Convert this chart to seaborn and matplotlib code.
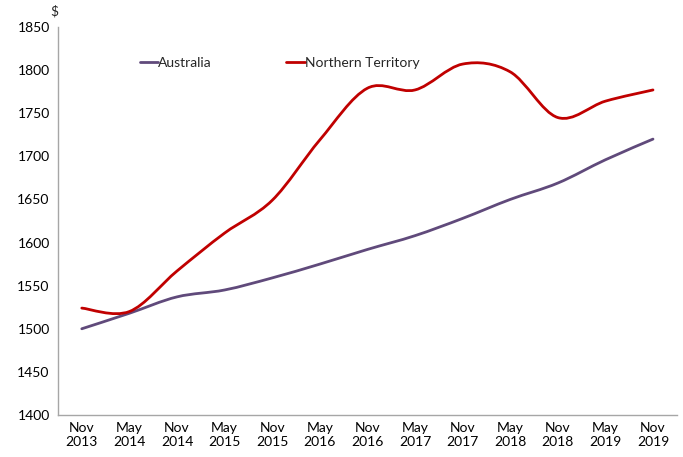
import matplotlib
matplotlib.use("Agg")
import matplotlib.pyplot as plt
from matplotlib.path import Path
from matplotlib.patches import PathPatch
import seaborn as sns
import pandas as pd
import numpy as np

periods = ["Nov\n2013", "May\n2014", "Nov\n2014", "May\n2015", "Nov\n2015", "May\n2016",
           "Nov\n2016", "May\n2017", "Nov\n2017", "May\n2018", "Nov\n2018", "May\n2019", "Nov\n2019"]
australia = [1500, 1518, 1537, 1545, 1559, 1575, 1592, 1608, 1628, 1650, 1669, 1696, 1720]
northern_territory = [1524, 1520, 1567, 1611, 1649, 1719, 1779, 1777, 1807, 1798, 1745, 1764, 1777]

sns.set_theme(style="white")
plt.rcParams['font.family'] = ['Lato', 'DejaVu Sans']

df = pd.DataFrame({
    "x": list(range(len(periods))) * 2,
    "value": australia + northern_territory,
    "series": ["Australia"] * len(periods) + ["Northern Territory"] * len(periods),
})

fig = plt.figure(figsize=(6.83, 4.57), dpi=100)
ax = fig.add_axes([0.0849, 0.0919, 0.906, 0.849])
sns.lineplot(data=df, x="x", y="value", hue="series",
             palette={"Australia": "#604A7B", "Northern Territory": "#C00000"},
             linewidth=2, ax=ax)


def smooth_path(x, y, t=1.0 / 6.0):
    # Excel-style smoothed line: cubic Bezier segments through the data points
    x = np.asarray(x, float)
    y = np.asarray(y, float)
    n = len(x)
    verts = [(x[0], y[0])]
    codes = [Path.MOVETO]
    for i in range(n - 1):
        p0 = (x[max(i - 1, 0)], y[max(i - 1, 0)])
        p1 = (x[i], y[i])
        p2 = (x[i + 1], y[i + 1])
        p3 = (x[min(i + 2, n - 1)], y[min(i + 2, n - 1)])
        c1 = (p1[0] + (p2[0] - p0[0]) * t, p1[1] + (p2[1] - p0[1]) * t)
        c2 = (p2[0] - (p3[0] - p1[0]) * t, p2[1] - (p3[1] - p1[1]) * t)
        verts += [c1, c2, p2]
        codes += [Path.CURVE4] * 3
    return Path(verts, codes)


for line in list(ax.lines):
    xd, yd = line.get_xdata(), line.get_ydata()
    if len(xd) < 2:
        continue
    patch = PathPatch(smooth_path(xd, yd), facecolor="none", edgecolor=line.get_color(),
                      linewidth=2, capstyle="round", joinstyle="round")
    ax.add_patch(patch)
    line.set_visible(False)

ax.set_xlim(-0.5, len(periods) - 0.5)
ax.set_ylim(1400, 1850)
ax.set_yticks(range(1400, 1851, 50))
ax.set_xticks(range(len(periods)))
ax.set_xticklabels(periods, fontsize=10, color="#000000", linespacing=1.2)
ax.tick_params(axis="y", labelsize=10, colors="#000000", length=0, pad=6)
ax.tick_params(axis="x", length=0, pad=5)
ax.set_xlabel("")
ax.set_ylabel("")
for s in ["top", "right"]:
    ax.spines[s].set_visible(False)
for s in ["left", "bottom"]:
    ax.spines[s].set_color("#A6A6A6")
    ax.spines[s].set_linewidth(1)

ax.text(-0.012, 1.025, "$", transform=ax.transAxes, fontsize=10, ha="left", va="bottom")

leg = ax.legend(loc="upper left", bbox_to_anchor=(0.112, 0.955), ncol=2, frameon=False,
                fontsize=10, handlelength=1.3, handletextpad=0.0, columnspacing=5.4)

fig.savefig("out.png", dpi=100)
